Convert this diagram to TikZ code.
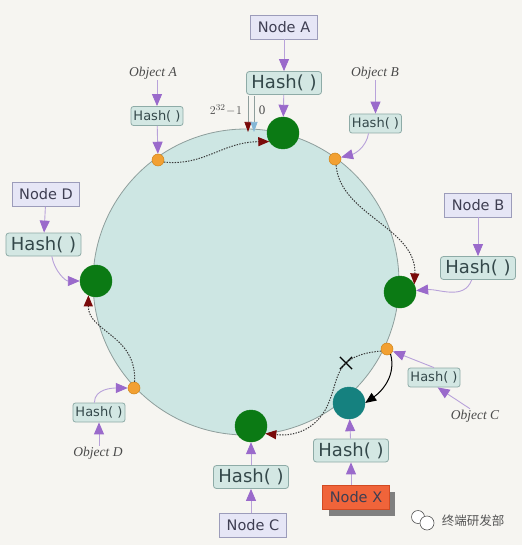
\documentclass[tikz,border=0pt]{standalone}
\usepackage{fontspec}
\setmainfont{DejaVu Sans}
\newfontfamily\objfont{Liberation Serif}
\newfontfamily\cjkfont{Noto Sans CJK SC}
\usetikzlibrary{arrows.meta,shapes.misc,shadows}
\definecolor{bg}{HTML}{F6F5F1}
\definecolor{ringfill}{HTML}{CDE6E3}
\definecolor{ringedge}{HTML}{8E9E9C}
\definecolor{nodefill}{HTML}{E6E6F6}
\definecolor{nodeborder}{HTML}{9C9CBA}
\definecolor{nodetext}{HTML}{3E3E52}
\definecolor{hashfill}{HTML}{D3E7E3}
\definecolor{hashborder}{HTML}{8EABA7}
\definecolor{hashtext}{HTML}{34484A}
\definecolor{objtext}{HTML}{4A4A4A}
\definecolor{nodegreen}{HTML}{0B7A14}
\definecolor{nodeteal}{HTML}{15817F}
\definecolor{dotorange}{HTML}{F2A032}
\definecolor{dotorangeedge}{HTML}{D08418}
\definecolor{linepurple}{HTML}{B8A2DA}
\definecolor{tippurple}{HTML}{9A6ACB}
\definecolor{darkred}{HTML}{7A0A0A}
\definecolor{lightblue}{HTML}{84B6D6}
\definecolor{dotline}{HTML}{3A3A3A}
\definecolor{xorange}{HTML}{F0643A}
\definecolor{xorangeedge}{HTML}{D24A22}
\definecolor{shadowgray}{HTML}{808080}
\definecolor{wmgray}{HTML}{555555}
\tikzset{
  nodebox/.style={draw=nodeborder, fill=nodefill, line width=0.8pt, minimum height=24pt, inner xsep=7pt, inner ysep=0pt, text=nodetext, font=\fontsize{14.5}{16}\selectfont},
  hashbig/.style={draw=hashborder, fill=hashfill, rounded corners=3pt, line width=0.8pt, minimum height=23pt, inner xsep=5pt, inner ysep=0pt, text=hashtext, font=\fontsize{18}{20}\selectfont},
  hashsmall/.style={draw=hashborder, fill=hashfill, rounded corners=2.5pt, line width=0.8pt, minimum height=19pt, inner xsep=2.5pt, inner ysep=0pt, text=hashtext, font=\fontsize{13}{15}\selectfont},
  objlabel/.style={text=objtext, inner sep=1pt, font=\objfont\itshape\fontsize{13.5}{15}\selectfont},
  greendot/.style={circle, fill=nodegreen, draw=nodegreen, minimum size=32pt, inner sep=0pt},
  tealdot/.style={circle, fill=nodeteal, draw=nodeteal, minimum size=32pt, inner sep=0pt},
  orangedot/.style={circle, fill=dotorange, draw=dotorangeedge, line width=0.5pt, minimum size=12pt, inner sep=0pt},
  parrow/.style={draw=linepurple, line width=0.9pt, -{Triangle[length=12pt,width=10pt,color=tippurple]}},
  dotpath/.style={draw=dotline, line width=1pt, dash pattern=on 1.4pt off 1.3pt, -{Triangle[length=11pt,width=9pt,color=darkred]}},
}
\begin{document}
\begin{tikzpicture}[x=1pt,y=-1pt]
\path[use as bounding box, fill=bg] (0,0) rectangle (522,545);
\node[circle, draw=ringedge, fill=ringfill, line width=0.8pt, minimum size=306pt, inner sep=0pt] (ring) at (246,282) {};

% Node A
\node[nodebox] (nA) at (284,27) {Node A};
\node[hashbig] (hA) at (284,83) {Hash( )};
\node[greendot] (gA) at (283,133) {};
% Node B
\node[nodebox] (nB) at (478,205) {Node B};
\node[hashbig] (hB) at (478,268) {Hash( )};
\node[greendot] (gB) at (400,292) {};
% Node C
\node[nodebox] (nC) at (253,525) {Node C};
\node[hashbig] (hC) at (251,477) {Hash( )};
\node[greendot] (gC) at (251,426) {};
% Node D
\node[nodebox] (nD) at (46,194.5) {Node D};
\node[hashbig] (hD) at (43.5,244.5) {Hash( )};
\node[greendot] (gD) at (96,281) {};
% Node X
\node[nodebox, draw=xorangeedge, fill=xorange, drop shadow={shadow xshift=6pt, shadow yshift=-6pt, fill=shadowgray, opacity=1}] (nX) at (356,497.5) {Node X};
\node[hashbig] (hX) at (351,450.5) {Hash( )};
\node[tealdot] (tX) at (349,403) {};

% Objects
\node[objlabel] (oA) at (153,73) {Object A};
\node[hashsmall] (sA) at (157,116) {Hash( )};
\node[orangedot] (dA) at (158,160) {};
\node[objlabel] (oB) at (375,73) {Object B};
\node[hashsmall] (sB) at (375.5,123.5) {Hash( )};
\node[orangedot] (dB) at (335,159) {};
\node[objlabel] (oC) at (475,416) {Object C};
\node[hashsmall] (sC) at (434,377.5) {Hash( )};
\node[orangedot] (dC) at (387,349) {};
\node[objlabel] (oD) at (98,453) {Object D};
\node[hashsmall] (sD) at (99,412.5) {Hash( )};
\node[orangedot] (dD) at (134,388) {};

% cross mark
\node[cross out, draw=black, line width=1.2pt, minimum size=11pt, inner sep=0pt] (xm) at (346,363) {};

% 2^32-1 and 0 markers
\node[text=objtext, font=\fontsize{13}{15}\selectfont] (lmax) at (226,110) {$2^{32}\!-\!1$};
\node[text=objtext, font=\objfont\fontsize{13}{15}\selectfont] (lzero) at (262,110) {0};
\coordinate (rtop) at (248,96);
\coordinate (rbot) at (248,132);
\coordinate (btop) at (254,96);
\coordinate (bbot) at (254,132);
\draw[draw=ringedge, line width=0.7pt, -{Triangle[length=10pt,width=7pt,color=darkred]}] (rtop) -- (rbot);
\draw[draw=ringedge, line width=0.7pt, -{Triangle[length=10pt,width=7pt,color=lightblue]}] (btop) -- (bbot);

% purple arrows: nodes
\draw[parrow] (nA) -- (hA);
\draw[parrow] (hA) -- (gA);
\draw[parrow] (nB) -- (hB);
\draw[parrow] (hB.-118) to[out=-110,in=5] (gB);
\draw[parrow] (nD) -- (hD);
\draw[parrow] (hD.-55) to[out=-80,in=180] (gD);
\draw[parrow] (nC.north -| hC.south) -- (hC);
\draw[parrow] (hC) -- (gC);
\draw[parrow] (nX.north -| hX.south) -- (hX);
\draw[parrow] (hX) -- (tX);

% purple arrows: objects
\draw[parrow] (oA.south -| sA.north) -- (sA);
\draw[parrow] (sA) -- (dA);
\draw[parrow] (oB.south -| sB.north) -- (sB);
\draw[parrow] (sB.-125) to[out=-100,in=15] (dB);
\draw[parrow] (oC.125) -- (sC.-70);
\draw[parrow] (sC.north) -- (dC);
\draw[parrow] (oD.north -| sD.south) -- (sD);
\draw[parrow] (sD.115) to[out=90,in=180] (dD);

% dotted paths
\draw[dotpath] (dA.-20) .. controls (205,166) and (222,142) .. (gA.212);
\draw[dotpath] (dB.-80) .. controls (340,215) and (417,228) .. (gB.28);
\draw[dotpath] (dC.200) .. controls (368,352) and (355,355) .. (xm.center) .. controls (336,372) and (335,388) .. (329,402) .. controls (320,425) and (300,437) .. (gC.-28);
\draw[dotpath] (dD.85) .. controls (137,335) and (88,332) .. (gD.-118);

% black reassignment arrow
\draw[black, line width=1pt, -{Triangle[length=11pt,width=9pt,color=black]}] (dC.-55) to[out=-75,in=35] (tX.east);

% watermark
\draw[wmgray, line width=0.6pt, fill=white] (418,517) circle (6.5pt);
\draw[wmgray, line width=0.6pt, fill=white] (427,523) circle (7pt);
\node[text=wmgray, font=\cjkfont\fontsize{12.5}{14}\selectfont] (wm) at (473,521) {终端研发部};
\end{tikzpicture}
\end{document}
